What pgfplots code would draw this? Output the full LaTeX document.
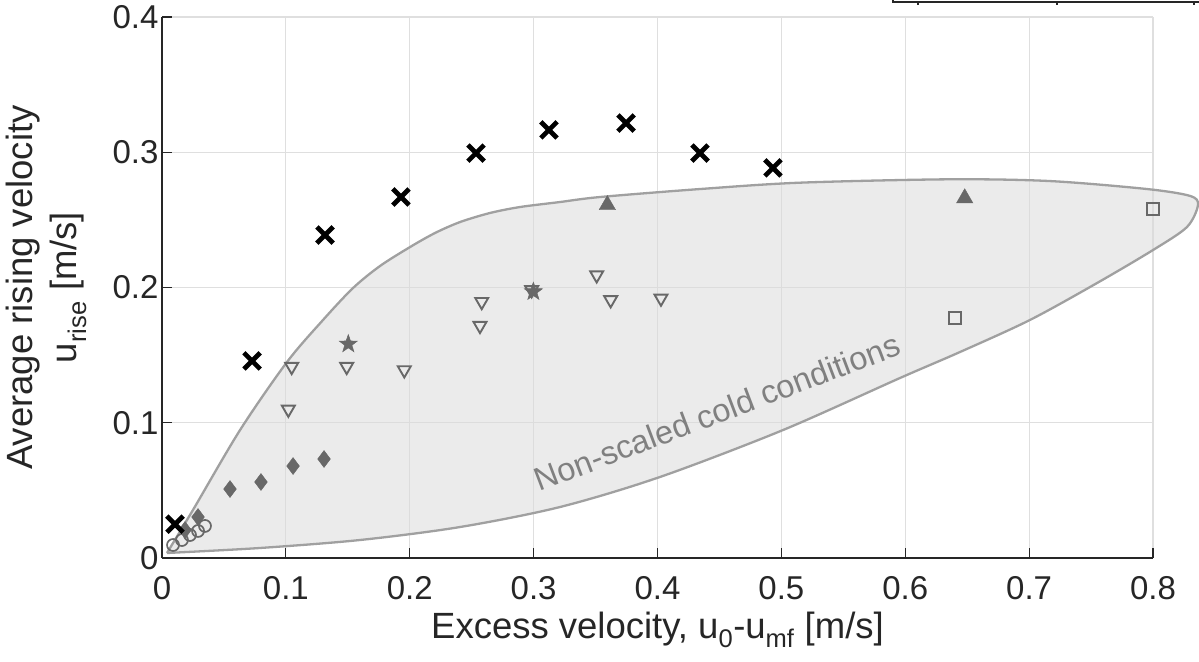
\documentclass[border=0pt]{standalone}
\usepackage{fontspec}
\setmainfont{Liberation Sans}
\usepackage{pgfplots}
\pgfplotsset{compat=1.18}

\definecolor{axgray}{RGB}{38,38,38}
\definecolor{gridgray}{RGB}{223,223,223}
\definecolor{mkgray}{RGB}{104,104,104}
\definecolor{regfill}{RGB}{218,218,218}
\definecolor{regline}{RGB}{160,160,160}
\definecolor{txtgray}{RGB}{128,128,128}

% filled five-pointed star
\pgfdeclareplotmark{fstar}{%
  \pgfpathmoveto{\pgfpointpolar{90}{\pgfplotmarksize}}%
  \pgfpathlineto{\pgfpointpolar{126}{0.4\pgfplotmarksize}}%
  \pgfpathlineto{\pgfpointpolar{162}{\pgfplotmarksize}}%
  \pgfpathlineto{\pgfpointpolar{198}{0.4\pgfplotmarksize}}%
  \pgfpathlineto{\pgfpointpolar{234}{\pgfplotmarksize}}%
  \pgfpathlineto{\pgfpointpolar{270}{0.4\pgfplotmarksize}}%
  \pgfpathlineto{\pgfpointpolar{306}{\pgfplotmarksize}}%
  \pgfpathlineto{\pgfpointpolar{342}{0.4\pgfplotmarksize}}%
  \pgfpathlineto{\pgfpointpolar{18}{\pgfplotmarksize}}%
  \pgfpathlineto{\pgfpointpolar{54}{0.4\pgfplotmarksize}}%
  \pgfpathclose\pgfusepathqfillstroke}

\begin{document}
\begin{tikzpicture}
\begin{axis}[
  name=ax,
  scale only axis,
  width=991bp, height=541bp,
  xmin=0, xmax=0.8, ymin=0, ymax=0.4,
  clip=false,
  axis lines*=left,
  axis line style={axgray, line width=1.2bp},
  tick align=inside,
  major tick length=10bp,
  tick style={axgray, line width=1.2bp},
  xtick={0,0.1,0.2,0.3,0.4,0.5,0.6,0.7,0.8},
  ytick={0,0.1,0.2,0.3,0.4},
  grid=major,
  major grid style={gridgray, line width=1.2bp},
  /pgf/number format/assume math mode=true,
  tick label style={font=\fontsize{33bp}{40bp}\selectfont, text=axgray},
  x tick label style={anchor=base, yshift=-41bp},
  label style={font=\fontsize{36.5bp}{44bp}\selectfont, text=axgray},
  xlabel={Excess velocity, u\textsubscript{0}-u\textsubscript{mf} [m/s]},
  xlabel style={at={(rel axis cs:0.5,0)}, anchor=base, yshift=-80bp},
  ylabel={Average rising velocity\\u\textsubscript{rise} [m/s]},
  ylabel style={at={(rel axis cs:-0.0727,0.5)}, anchor=south, align=center},
]

% non-scaled cold conditions region
\addplot[smooth, draw=regline, line width=2.3bp, fill=regfill, fill opacity=0.55]
  coordinates {
  (0.0040,0.0037) (0.0250,0.0355) (0.0630,0.0946) (0.1009,0.1449) (0.1300,0.1760)
  (0.1542,0.1996) (0.1760,0.2159) (0.2002,0.2299) (0.2204,0.2403) (0.2406,0.2484)
  (0.2648,0.2551) (0.2890,0.2595) (0.3213,0.2632) (0.3536,0.2669) (0.4343,0.2728)
  (0.5150,0.2775) (0.6361,0.2800) (0.7168,0.2787) (0.7952,0.2728) (0.8299,0.2677)
  (0.8363,0.2610) (0.8274,0.2447) (0.8000,0.2277) (0.7548,0.2033) (0.7007,0.1760)
  (0.6442,0.1523) (0.5958,0.1331) (0.5013,0.0946) (0.4020,0.0599) (0.3213,0.0377)
  (0.2406,0.0229) (0.1598,0.0133) (0.0791,0.0074) (0.0040,0.0037)};

\node[rotate=20.8, text=txtgray, font=\fontsize{32.5bp}{39bp}\selectfont]
  at (axis cs:0.448,0.108) {Non-scaled cold conditions};

% open circles
\addplot[only marks, mark=o, mark size=6bp, mkgray, mark options={line width=1.7bp}]
  coordinates {(0.0089,0.0096) (0.0161,0.0133) (0.0226,0.0170) (0.0291,0.0200) (0.0347,0.0237)};

% filled diamonds
\addplot[only marks, mark=diamond*, mark size=8.5bp, mkgray, mark options={fill=mkgray}]
  coordinates {(0.0186,0.0207) (0.0291,0.0303) (0.0549,0.0510) (0.0799,0.0562) (0.1058,0.0680) (0.1308,0.0732)};

% open triangles (down)
\addplot[only marks, mark=triangle, mark size=7.5bp, mkgray, mark options={rotate=180, line width=1.9bp}]
  coordinates {(0.1047,0.1415) (0.1020,0.1099) (0.1491,0.1415) (0.1956,0.1390) (0.2581,0.1895)
    (0.2567,0.1718) (0.2984,0.1982) (0.3509,0.2092) (0.3622,0.1908) (0.4028,0.1920)};

% filled stars
\addplot[only marks, mark=fstar, mark size=9.5bp, mkgray, mark options={fill=mkgray, line width=0.5bp}]
  coordinates {(0.1504,0.1582) (0.2998,0.1969)};

% filled triangles (up)
\addplot[only marks, mark=triangle*, mark size=9.5bp, mkgray, mark options={fill=mkgray}]
  coordinates {(0.3595,0.2610) (0.6480,0.2660)};

% open squares
\addplot[only marks, mark=square, mark size=6bp, mkgray, mark options={line width=2bp}]
  coordinates {(0.6400,0.1775) (0.8000,0.2580)};

% crosses
\addplot[only marks, mark=x, mark size=11.5bp, black, mark options={line width=4.7bp}]
  coordinates {(0.0105,0.0250) (0.0727,0.1457) (0.1316,0.2388) (0.1929,0.2669) (0.2535,0.2994)
    (0.3124,0.3165) (0.3746,0.3216) (0.4343,0.2994) (0.4932,0.2884)};

% fragment of a neighbouring frame at the top edge
\draw[axgray, line width=1.2bp] (axis cs:0.5901,0.4126) -- (axis cs:0.5901,0.4111) -- (axis cs:0.8371,0.4111);
\draw[axgray, line width=1.2bp] (axis cs:0.6103,0.4111) -- (axis cs:0.6103,0.4089);
\draw[axgray, line width=1.2bp] (axis cs:0.7225,0.4111) -- (axis cs:0.7225,0.4089);
\draw[axgray, line width=1.2bp] (axis cs:0.8331,0.4111) -- (axis cs:0.8331,0.4089);
\end{axis}
\pgfresetboundingbox
\path[use as bounding box] ([xshift=-162bp,yshift=-104bp]ax.south west) rectangle ([xshift=1037bp,yshift=558bp]ax.south west);
\end{tikzpicture}
\end{document}
